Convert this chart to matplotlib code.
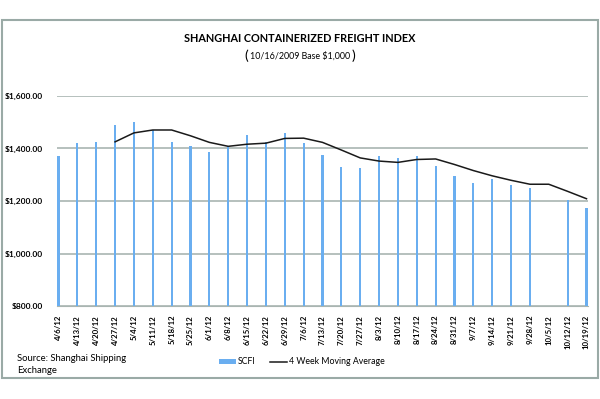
import matplotlib.pyplot as plt
from matplotlib.patches import Rectangle

dates = ['4/6/12', '4/13/12', '4/20/12', '4/27/12', '5/4/12', '5/11/12', '5/18/12',
         '5/25/12', '6/1/12', '6/8/12', '6/15/12', '6/22/12', '6/29/12', '7/6/12',
         '7/13/12', '7/20/12', '7/27/12', '8/3/12', '8/10/12', '8/17/12', '8/24/12',
         '8/31/12', '9/7/12', '9/14/12', '9/21/12', '9/28/12', '10/5/12', '10/12/12',
         '10/19/12']
scfi = [1373, 1419, 1425, 1488, 1500, 1470, 1425, 1409, 1387, 1411, 1450, 1425,
        1459, 1421, 1374, 1329, 1325, 1370, 1363, 1370, 1333, 1294, 1267, 1283,
        1260, 1248, None, 1203, 1175]
moving_avg = [None, None, None, 1425, 1459, 1470, 1470, 1448, 1423, 1408, 1416,
              1420, 1438, 1439, 1423, 1394, 1364, 1352, 1347, 1358, 1360, 1339,
              1316, 1296, 1279, 1264, 1264, 1237, 1209]

plt.rcParams['font.family'] = ['Lato', 'DejaVu Sans']

fig = plt.figure(figsize=(6, 3.99), dpi=100)
fig.patches.append(Rectangle((0.003, 0.053), 0.994, 0.897, transform=fig.transFigure,
                             fill=False, edgecolor='#9aaaa6', linewidth=1.5))

ax = fig.add_axes([0.095, 0.232, 0.885, 0.528])

x = list(range(len(dates)))
bx = [i for i, v in zip(x, scfi) if v is not None]
bv = [v for v in scfi if v is not None]
bars = ax.bar(bx, [v - 800 for v in bv], bottom=800, width=0.11, color='#6aaef0',
              label='SCFI', zorder=3)
mx = [i for i, v in zip(x, moving_avg) if v is not None]
mv = [v for v in moving_avg if v is not None]
line, = ax.plot(mx, mv, color='#1a1a1a', linewidth=1.1, label='4 Week Moving Average', zorder=4)

ax.set_ylim(800, 1600)
ax.set_xlim(-0.08, len(dates) - 1 + 0.08)
ax.set_yticks([800, 1000, 1200, 1400, 1600])
ax.set_yticklabels(['$800.00', '$1,000.00', '$1,200.00', '$1,400.00', '$1,600.00'],
                   fontsize=6, fontweight='bold')
ax.set_xticks(x)
ax.set_xticklabels(dates, rotation=90, fontsize=5.6, fontweight='bold')
ax.tick_params(axis='y', length=0, pad=10)
ax.tick_params(axis='x', length=0, pad=6)
ax.grid(axis='y', color='#a9b5b1', linewidth=1.2, zorder=0)
for s in ax.spines.values():
    s.set_visible(False)
ax.spines['bottom'].set_visible(True)
ax.spines['bottom'].set_color('#a9b5b1')

fig.text(0.5, 0.903, 'SHANGHAI CONTAINERIZED FREIGHT INDEX', ha='center', va='center',
         fontsize=7.8, fontweight='bold')
fig.text(0.413, 0.86, '(', ha='right', va='center', fontsize=10)
fig.text(0.4995, 0.86, '10/16/2009 Base $1,000', ha='center', va='center', fontsize=6.4)
fig.text(0.586, 0.86, ')', ha='left', va='center', fontsize=10)

fig.text(0.028, 0.087, 'Source: Shanghai Shipping\nExchange', ha='left', va='center',
         fontsize=6.8, linespacing=1.45)

ax.legend([bars, line], ['SCFI', '4 Week Moving Average'], loc='center',
          bbox_to_anchor=(0.503, 0.093), bbox_transform=fig.transFigure,
          ncol=2, frameon=False, fontsize=6.3, handlelength=2.0, handleheight=0.5,
          columnspacing=1.6, handletextpad=0.2)

plt.savefig('out.png', dpi=100)
